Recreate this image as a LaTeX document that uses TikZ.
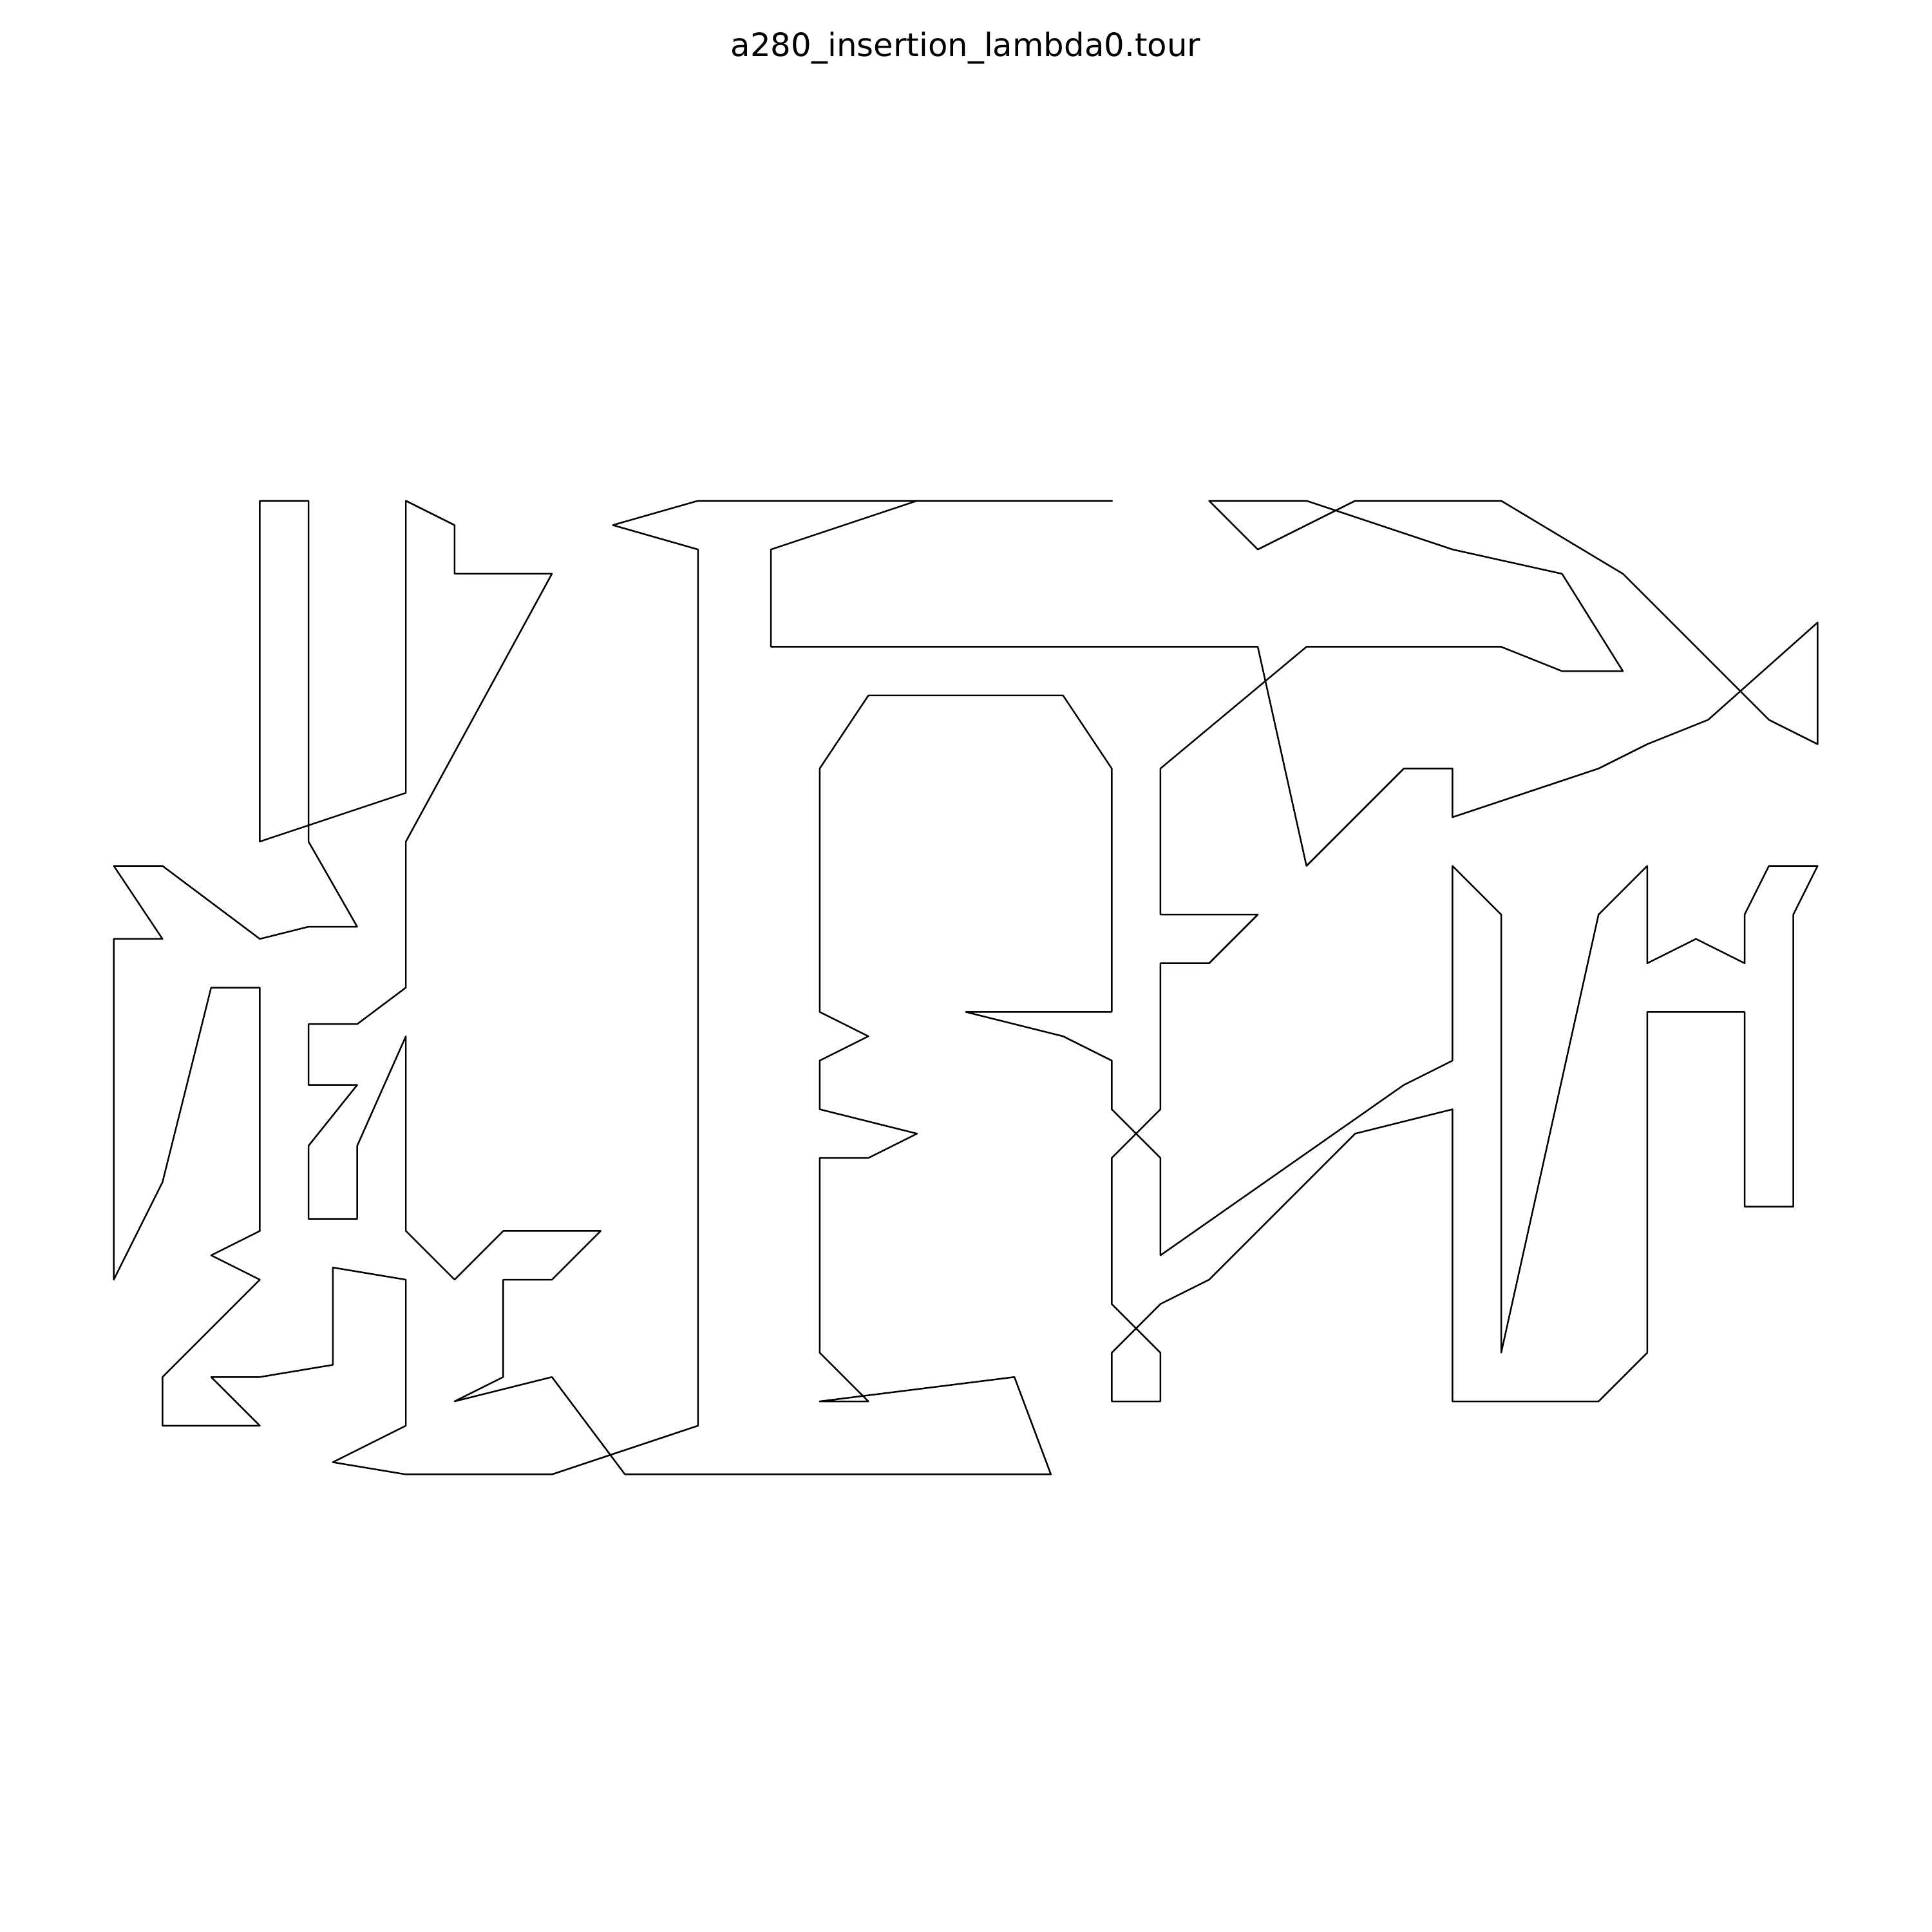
\documentclass[tikz,border=0pt]{standalone}
\usepackage{fontspec}
\setmainfont{DejaVu Sans}
\usepackage{tikz}

\begin{document}
\begin{tikzpicture}[x=0.08cm,y=0.08cm,
    tour/.style={line width=0.6pt,line join=round,line cap=rect},
    ttl/.style={font=\fontsize{12}{14}\selectfont,anchor=base,inner sep=0pt}]
  \useasboundingbox (-10.7,-66.2) rectangle (306.8,251.3);
  % ---- title ----
  \node[ttl] (title) at (148,242.05) {a280\_insertion\_lambda0.tour};
  % ---- tour: right half ----
  \draw[tour] (140,169) -- (116,161) -- (116,145) -- (196,145) -- (204,109) -- (220,125)
    -- (228,125) -- (228,117) -- (252,125) -- (260,129) -- (270,133) -- (288,149)
    -- (288,129) -- (280,133) -- (256,157) -- (236,169) -- (212,169) -- (196,161)
    -- (188,169) -- (204,169) -- (228,161) -- (246,157) -- (256,141) -- (246,141)
    -- (236,145) -- (204,145) -- (180,125) -- (180,101) -- (196,101) -- (188,93)
    -- (180,93) -- (180,69) -- (172,61) -- (172,37) -- (180,29) -- (180,21)
    -- (172,21) -- (172,29) -- (180,37) -- (188,41) -- (212,65) -- (228,69)
    -- (228,21) -- (252,21) -- (260,29) -- (260,85) -- (276,85) -- (276,53)
    -- (284,53) -- (284,101) -- (288,109) -- (280,109) -- (276,101) -- (276,93)
    -- (268,97) -- (260,93) -- (260,109) -- (252,101) -- (236,29) -- (236,101)
    -- (228,109) -- (228,77) -- (220,73) -- (180,45) -- (180,61) -- (172,69)
    -- (172,77) -- (164,81) -- (148,85) -- (172,85) -- (172,125) -- (164,137)
    -- (132,137) -- (124,125) -- (124,85) -- (132,81) -- (124,77) -- (124,69)
    -- (140,65) -- (132,61) -- (124,61) -- (124,29) -- (132,21) -- (124,21)
    -- (156,25) -- (162,9) -- (92,9)
  % ---- tour: left half ----
    -- (80,25) -- (64,21) -- (72,25) -- (72,41) -- (80,41) -- (88,49) -- (72,49)
    -- (64,41) -- (56,49) -- (56,81) -- (48,63) -- (48,51) -- (40,51) -- (40,63)
    -- (48,73) -- (40,73) -- (40,83) -- (48,83) -- (56,89) -- (56,113) -- (80,157)
    -- (64,157) -- (64,165) -- (56,169) -- (56,121) -- (32,113) -- (32,169)
    -- (40,169) -- (40,113) -- (48,99) -- (40,99) -- (32,97) -- (16,109) -- (8,109)
    -- (16,97) -- (8,97) -- (8,41) -- (16,57) -- (24,89) -- (32,89) -- (32,49)
    -- (24,45) -- (32,41) -- (16,25) -- (16,17) -- (32,17) -- (24,25) -- (32,25)
    -- (44,27) -- (44,43) -- (56,41) -- (56,17) -- (44,11) -- (56,9) -- (80,9)
    -- (104,17) -- (104,161) -- (90,165) -- (104,169) -- (172,169);
\end{tikzpicture}
\end{document}
